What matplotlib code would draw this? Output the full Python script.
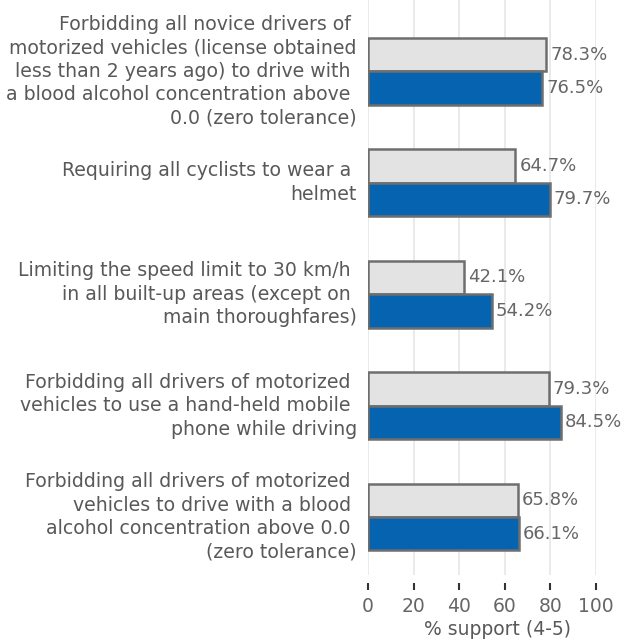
import matplotlib
matplotlib.use("Agg")
import matplotlib.pyplot as plt
import numpy as np

categories = [
    "Forbidding all novice drivers of \nmotorized vehicles (license obtained\nless than 2 years ago) to drive with \na blood alcohol concentration above \n0.0 (zero tolerance)",
    "Requiring all cyclists to wear a \nhelmet",
    "Limiting the speed limit to 30 km/h \nin all built-up areas (except on \nmain thoroughfares)",
    "Forbidding all drivers of motorized \nvehicles to use a hand-held mobile \nphone while driving",
    "Forbidding all drivers of motorized \nvehicles to drive with a blood \nalcohol concentration above 0.0 \n(zero tolerance)",
]
grey_values = [78.3, 64.7, 42.1, 79.3, 65.8]
blue_values = [76.5, 79.7, 54.2, 84.5, 66.1]
xticks = [0, 20, 40, 60, 80, 100]

text_color = "#595959"
value_color = "#666666"
plt.rcParams['font.family'] = ['DejaVu Sans']

fig = plt.figure(figsize=(6.29, 6.41), dpi=100)
ax = fig.add_axes([0.585, 0.103, 0.3625, 0.897])

y = np.arange(len(categories))
h = 0.3
ax.barh(y - h / 2, grey_values, height=h, color="#e3e3e3", edgecolor="#6e6e6e", linewidth=1.8, zorder=3)
ax.barh(y + h / 2, blue_values, height=h, color="#0563b0", edgecolor="#6e6e6e", linewidth=1.8, zorder=3)

for yi, v in zip(y, grey_values):
    ax.text(v + 1.8, yi - h / 2, f"{v:.1f}%", va="center", ha="left", fontsize=13, color=value_color)
for yi, v in zip(y, blue_values):
    ax.text(v + 1.8, yi + h / 2, f"{v:.1f}%", va="center", ha="left", fontsize=13, color=value_color)

ax.set_xlim(0, 100)
ax.set_ylim(4.52, -0.64)
ax.set_xticks(xticks)
ax.set_xticklabels([str(t) for t in xticks])
ax.set_yticks(y)
ax.set_yticklabels(categories, linespacing=1.3, va="center")
ax.tick_params(axis="y", length=0, pad=8, labelsize=13.6, labelcolor=text_color)
ax.tick_params(axis="x", direction="out", length=5, width=1.5, color="#333333", pad=5,
               labelsize=13.5, labelcolor=value_color)
ax.xaxis.grid(True, color="#e6e6e6", linewidth=1.2, zorder=0)
ax.set_axisbelow(True)
for s in ["top", "right", "left"]:
    ax.spines[s].set_visible(False)
ax.spines["bottom"].set_position(("outward", 6))
ax.spines["bottom"].set_visible(False)
ax.set_xlabel("% support (4-5)", fontsize=13.5, color=text_color)
ax.xaxis.set_label_coords(0.566, -0.079)

fig.savefig("out.png", dpi=100)
